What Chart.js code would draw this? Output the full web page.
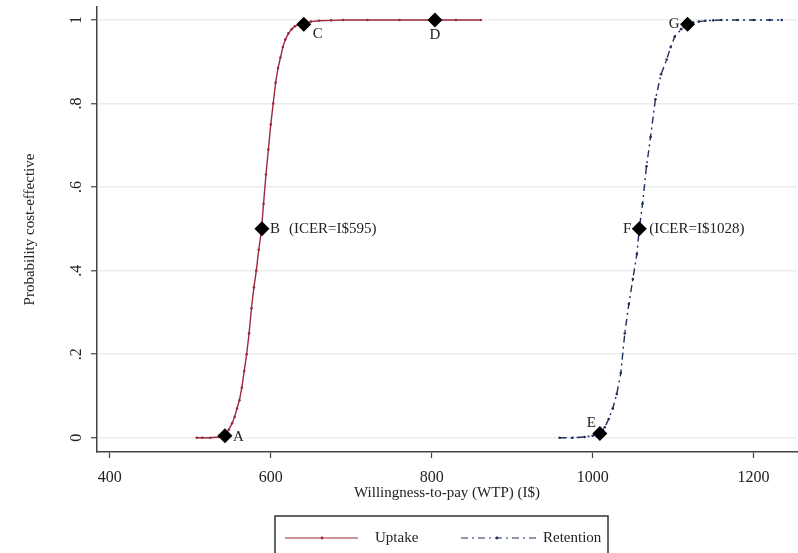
<!DOCTYPE html>
<html>
<head>
<meta charset="utf-8">
<title>CEAC</title>
<script src="https://cdn.jsdelivr.net/npm/chart.js@4.4.1/dist/chart.umd.min.js"></script>
<style>
  html, body { margin: 0; padding: 0; background: #fff; }
  #wrap { width: 798px; height: 553px; }
</style>
</head>
<body>
<div id="wrap"><canvas id="ceacChart" width="798" height="553"></canvas></div>
<script>
// values
const uptakeWtp  = [508, 515, 525, 535, 543, 548, 552, 555, 558, 561, 564, 567, 570, 573, 576, 579, 582, 585, 588, 591, 594, 597, 600, 603, 606, 609, 612, 615, 618, 622, 626, 630, 635, 641, 650, 660, 675, 690, 720, 760, 804, 830, 861];
const uptakeProb = [0, 0, 0, 0.002, 0.005, 0.02, 0.035, 0.05, 0.07, 0.09, 0.12, 0.16, 0.2, 0.25, 0.31, 0.36, 0.4, 0.45, 0.49, 0.56, 0.63, 0.69, 0.75, 0.8, 0.85, 0.885, 0.91, 0.935, 0.953, 0.968, 0.978, 0.985, 0.989, 0.993, 0.996, 0.998, 0.999, 1, 1, 1, 1, 1, 1];

const retentionWtp  = [959, 975, 990, 1000, 1009, 1015, 1020, 1025, 1030, 1035, 1040, 1045, 1050, 1055, 1058, 1062, 1067, 1072, 1078, 1085, 1092, 1097, 1102, 1110, 1118, 1125, 1132, 1140, 1150, 1160, 1180, 1200, 1220, 1235];
const retentionProb = [0, 0, 0.002, 0.005, 0.01, 0.025, 0.045, 0.07, 0.105, 0.155, 0.25, 0.32, 0.38, 0.44, 0.5, 0.56, 0.65, 0.72, 0.81, 0.87, 0.905, 0.935, 0.96, 0.978, 0.99, 0.994, 0.996, 0.998, 0.999, 1, 1, 1, 1, 1];

const markerNames = ['A', 'B', 'C', 'D', 'E', 'F', 'G'];
const markerWtp   = [543, 589, 641, 804, 1009, 1058, 1118];
const markerProb  = [0.005, 0.5, 0.99, 1, 0.01, 0.5, 0.99];
const icerNotes   = { B: '(ICER=I$595)', F: '(ICER=I$1028)' };

const xTicks = [400, 600, 800, 1000, 1200];
const yTicks = [0, 0.2, 0.4, 0.6, 0.8, 1];
const yTickLabels = ['0', '.2', '.4', '.6', '.8', '1'];

const serif = '"Liberation Serif", "Times New Roman", serif';
const uptakeColor = '#9c2a3e';
const retentionColor = '#1f2f5a';

function pairs(xs, ys) {
    return xs.map((x, i) => ({ x: x, y: ys[i] }));
}

// where each letter sits relative to its diamond: dx, dy, align
const labelPlace = {
    A: [8, 1, 'left'],
    B: [8, 0, 'left'],
    C: [9, 10, 'left'],
    D: [0, 15, 'center'],
    E: [-4, -11, 'right'],
    F: [-8, 0, 'right'],
    G: [-8, 0, 'right']
};

const stataBits = {
    id: 'stataBits',
    afterLayout(chart) {
        // plot runs to the right edge and close to the top, like the original
        const area = chart.chartArea;
        const xs = chart.scales.x;
        const ys = chart.scales.y;
        const right = chart.width - 1;
        const top = 7;
        area.right = right;
        area.width = right - area.left;
        area.top = top;
        area.height = area.bottom - top;
        xs.right = right;
        xs.width = right - xs.left;
        xs.configure();
        ys.top = top;
        ys.height = ys.bottom - top;
        ys.configure();
    },
    afterDraw(chart) {
        const ctx = chart.ctx;
        const ys = chart.scales.y;
        ctx.save();
        ctx.fillStyle = '#222';

        // rotated y tick labels
        ctx.font = '16px ' + serif;
        ctx.textAlign = 'center';
        ctx.textBaseline = 'middle';
        yTicks.forEach((v, i) => {
            const py = ys.getPixelForValue(v);
            ctx.save();
            ctx.translate(77, py);
            ctx.rotate(-Math.PI / 2);
            ctx.fillText(yTickLabels[i], 0, 0);
            ctx.restore();
        });

        // letters next to the diamonds
        ctx.font = '15px ' + serif;
        const meta = chart.getDatasetMeta(0);
        meta.data.forEach((pt, i) => {
            const name = markerNames[i];
            const p = labelPlace[name];
            ctx.textAlign = p[2];
            ctx.textBaseline = 'middle';
            ctx.fillText(name, pt.x + p[0], pt.y + p[1]);
            if (icerNotes[name]) {
                ctx.textAlign = 'left';
                const nx = name === 'B' ? pt.x + 27 : pt.x + 10;
                ctx.fillText(icerNotes[name], nx, pt.y + p[1]);
            }
        });

        // legend box
        const boxL = 275, boxR = 608, boxT = 516, midY = 538;
        ctx.strokeStyle = '#333';
        ctx.lineWidth = 1.5;
        ctx.strokeRect(boxL, boxT, boxR - boxL, 60);

        const up = chart.data.datasets[1];
        const ret = chart.data.datasets[2];

        ctx.lineWidth = 1.2;
        ctx.strokeStyle = up.borderColor;
        ctx.beginPath();
        ctx.moveTo(285, midY);
        ctx.lineTo(358, midY);
        ctx.stroke();
        ctx.fillStyle = up.borderColor;
        ctx.beginPath();
        ctx.arc(322, midY, 1.4, 0, Math.PI * 2);
        ctx.fill();

        ctx.strokeStyle = ret.borderColor;
        ctx.setLineDash(ret.borderDash);
        ctx.beginPath();
        ctx.moveTo(461, midY);
        ctx.lineTo(537, midY);
        ctx.stroke();
        ctx.setLineDash([]);
        ctx.fillStyle = ret.borderColor;
        ctx.beginPath();
        ctx.arc(497, midY, 1.4, 0, Math.PI * 2);
        ctx.fill();

        ctx.fillStyle = '#222';
        ctx.font = '15px ' + serif;
        ctx.textAlign = 'left';
        ctx.textBaseline = 'middle';
        ctx.fillText(up.label, 375, midY);
        ctx.fillText(ret.label, 543, midY);

        ctx.restore();
    }
};

new Chart(document.getElementById('ceacChart'), {
    type: 'line',
    data: {
        datasets: [
            {
                label: 'Points',
                data: pairs(markerWtp, markerProb),
                showLine: false,
                pointStyle: 'rectRot',
                pointRadius: 7.5,
                pointBackgroundColor: '#000',
                pointBorderColor: '#000',
                pointBorderWidth: 0
            },
            {
                label: 'Uptake',
                data: pairs(uptakeWtp, uptakeProb),
                borderColor: uptakeColor,
                borderWidth: 1.4,
                pointRadius: 1.3,
                pointBackgroundColor: uptakeColor,
                pointBorderWidth: 0,
                tension: 0
            },
            {
                label: 'Retention',
                data: pairs(retentionWtp, retentionProb),
                borderColor: retentionColor,
                borderWidth: 1.4,
                borderDash: [7, 4, 2, 4],
                pointRadius: 1.3,
                pointBackgroundColor: retentionColor,
                pointBorderWidth: 0,
                tension: 0
            }
        ]
    },
    options: {
        responsive: false,
        animation: false,
        layout: { padding: { top: 7, right: 1, bottom: 45, left: 0 } },
        plugins: {
            legend: { display: false },
            tooltip: { enabled: false }
        },
        scales: {
            x: {
                type: 'linear',
                min: 384,
                max: 1254,
                afterBuildTicks: (s) => { s.ticks = xTicks.map(v => ({ value: v })); },
                afterFit: (s) => { s.height = 56; },
                border: { display: true, color: '#444', width: 1.5 },
                grid: { drawOnChartArea: false, drawTicks: true, tickLength: 6, tickColor: '#444', tickWidth: 1.2 },
                ticks: {
                    color: '#222',
                    font: { family: serif, size: 16 },
                    padding: 10,
                    maxRotation: 0,
                    callback: (v) => String(v)
                },
                title: {
                    display: true,
                    text: 'Willingness-to-pay (WTP) (I$)',
                    color: '#222',
                    font: { family: serif, size: 15 },
                    padding: { top: 0, bottom: 6 }
                }
            },
            y: {
                type: 'linear',
                min: -0.034,
                max: 1.031,
                afterBuildTicks: (s) => { s.ticks = yTicks.map(v => ({ value: v })); },
                afterFit: (s) => { s.width = 97; },
                border: { display: true, color: '#444', width: 1.5 },
                grid: { color: '#ececec', lineWidth: 1.5, drawTicks: true, tickLength: 6, tickColor: '#444', tickWidth: 1.2 },
                ticks: { color: 'rgba(0,0,0,0)', font: { family: serif, size: 15 }, padding: 4 },
                title: {
                    display: true,
                    text: 'Probability cost-effective',
                    color: '#222',
                    font: { family: serif, size: 15 },
                    padding: { top: 21, bottom: 0 }
                }
            }
        }
    },
    plugins: [stataBits]
});
</script>
</body>
</html>
